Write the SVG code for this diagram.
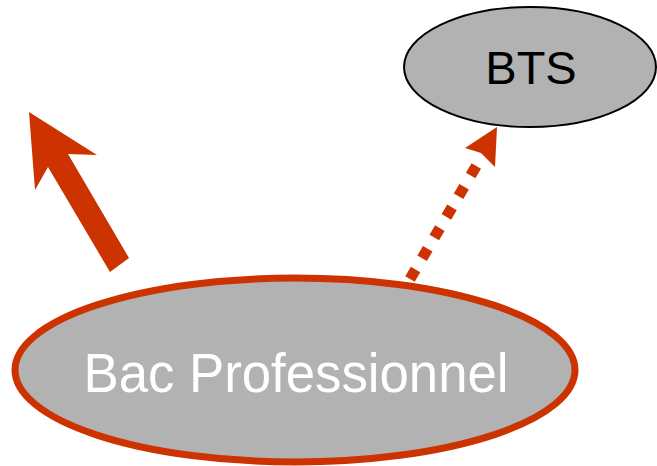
<svg xmlns="http://www.w3.org/2000/svg" width="657" height="466" viewBox="0 0 657 466">
<style>
.node-fill{fill:#b2b2b2}
.lbl{font-family:"Liberation Sans",Arial,sans-serif;text-anchor:middle}
.conn{fill:#cc3300;stroke:none}
</style>
<rect width="657" height="466" fill="#ffffff"/>
<g id="connectors">
<polygon class="conn" points="129,258 68,154 97,155 29,112 35,190 48,167 110,272"/>
<line x1="410" y1="279" x2="478" y2="163" stroke="#cc3300" stroke-width="11" stroke-dasharray="11,13"/>
<polygon class="conn" points="497,127 465,148 481,153 495,167"/>
</g>
<g id="node-bts">
<ellipse class="node-fill" cx="530" cy="67" rx="126" ry="60" stroke="#000000" stroke-width="2"/>
<text class="lbl" x="531" y="84" font-size="47" fill="#000000">BTS</text>
</g>
<g id="node-bacpro">
<ellipse class="node-fill" cx="295" cy="370" rx="280" ry="92" stroke="#cc3300" stroke-width="7"/>
<text class="lbl" x="296" y="392" font-size="56" fill="#ffffff" textLength="425" lengthAdjust="spacingAndGlyphs">Bac Professionnel</text>
</g>
</svg>
